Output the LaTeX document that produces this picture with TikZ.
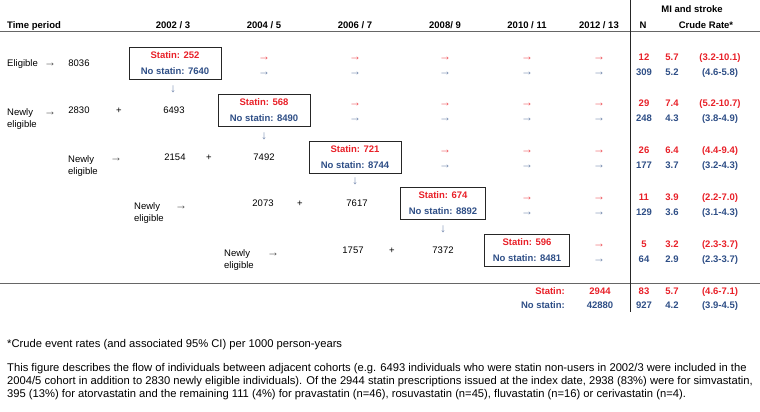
\documentclass[tikz,border=0pt]{standalone}
\usepackage{fontspec}
\setmainfont{Liberation Sans}
\usetikzlibrary{positioning}

\definecolor{statred}{RGB}{232,32,40}
\definecolor{statblue}{RGB}{46,78,134}
\newcommand{\fsz}{\fontsize{9.5}{13}\selectfont}
\newcommand{\fnote}{\fontsize{11.2}{13}\selectfont}

\begin{document}
\begin{tikzpicture}[x=1pt, y=-1pt,
    every node/.style={inner sep=0pt, font=\fsz},
    txt/.style={text height=6.8pt, text depth=0pt},
    hdr/.style={txt, font=\fsz\bfseries},
    rtxt/.style={txt, text=statred, font=\fsz\bfseries},
    btxt/.style={txt, text=statblue, font=\fsz\bfseries},
    arw/.style={txt, font=\fontsize{12}{12}\selectfont},
    rarr/.style={arw, text=statred!80},
    barr/.style={arw, text=statblue!70},
    newly/.style={anchor=north west, align=left, font=\fontsize{9.5}{12}\selectfont},
    cbox/.style={draw=black!85, line width=0.75pt, align=center,
                 font=\fontsize{9.5}{16}\selectfont\bfseries,
                 minimum width=#1, minimum height=32},
    cbox/.default=92]
    % Fix the size of the page
    \useasboundingbox (0,0) rectangle (760,412);

    % Column centres of the cohorts
    \def\cA{173} \def\cB{264} \def\cC{355} \def\cD{445} \def\cE{527} \def\cF{599}

    % Header row
    \node[hdr, anchor=west] (tp) at (7,25) {Time period};
    \node[hdr] (h1) at (\cA,25) {2002 / 3};
    \node[hdr] (h2) at (\cB,25) {2004 / 5};
    \node[hdr] (h3) at (\cC,25) {2006 / 7};
    \node[hdr] (h4) at (\cD,25) {2008/ 9};
    \node[hdr] (h5) at (\cE,25) {2010 / 11};
    \node[hdr] (h6) at (\cF,25) {2012 / 13};
    \node[hdr] (hn) at (643,25) {N};
    \node[hdr] (hmi) at (692,9) {MI and stroke};
    \node[hdr] (hcr) at (706,25) {Crude Rate*};

    % Rules of the table
    \draw[black!60, line width=1pt] (0,32) -- (760,32);
    \draw[black!60, line width=1pt] (0,283) -- (760,283);
    \draw[black!85, line width=0.8pt] (630,0) -- (630,312);

    % Row 1: eligible
    \node[txt, anchor=west] (elig) at (7,63) {Eligible};
    \node[arw, text=black!70] (ea1) at (50,63) {→};
    \node[txt] (n1) at (79,63) {8036};
    \node[cbox] (b1) at (175,63.5) {{\color{statred}Statin: 252}\\{\color{statblue}No statin: 7640}};
    \node[barr] (d1) at (173,89) {↓};

    % Row 2
    \node[newly] (ne2) at (7,108.6) {Newly\\eligible};
    \node[arw, text=black!70] (ea2) at (50,112) {→};
    \node[txt] (n2) at (79,110) {2830};
    \node[txt] (p2) at (119,110) {+};
    \node[txt] (m2) at (174,110) {6493};
    \node[cbox] (b2) at (264,110) {{\color{statred}Statin: 568}\\{\color{statblue}No statin: 8490}};
    \node[barr] (d2) at (264,136) {↓};

    % Row 3
    \node[newly] (ne3) at (68,155.6) {Newly\\eligible};
    \node[arw, text=black!70] (ea3) at (116,158) {→};
    \node[txt] (n3) at (175,157) {2154};
    \node[txt] (p3) at (209,157) {+};
    \node[txt] (m3) at (264,157) {7492};
    \node[cbox] (b3) at (355,157) {{\color{statred}Statin: 721}\\{\color{statblue}No statin: 8744}};
    \node[barr] (d3) at (355,181) {↓};

    % Row 4
    \node[newly] (ne4) at (134,202.6) {Newly\\eligible};
    \node[arw, text=black!70] (ea4) at (181,206) {→};
    \node[txt] (n4) at (263,203) {2073};
    \node[txt] (p4) at (300,203) {+};
    \node[txt] (m4) at (357,203) {7617};
    \node[cbox=85] (b4) at (443,203.5) {{\color{statred}Statin: 674}\\{\color{statblue}No statin: 8892}};
    \node[barr] (d4) at (443,229) {↓};

    % Row 5
    \node[newly] (ne5) at (224,249.6) {Newly\\eligible};
    \node[arw, text=black!70] (ea5) at (273,253) {→};
    \node[txt] (n5) at (353,250) {1757};
    \node[txt] (p5) at (392,250) {+};
    \node[txt] (m5) at (443,250) {7372};
    \node[cbox=85] (b5) at (527,250.5) {{\color{statred}Statin: 596}\\{\color{statblue}No statin: 8481}};

    % Arrows carrying each cohort forward
    \foreach \r/\yc/\cols in {1/63.5/{\cB,\cC,\cD,\cE,\cF},
                              2/110/{\cC,\cD,\cE,\cF},
                              3/157/{\cD,\cE,\cF},
                              4/203.5/{\cE,\cF},
                              5/250.5/{\cF}}
        \foreach \x [count=\k] in \cols {
            \node[rarr] (ra\r\k) at (\x,\yc-6.5) {→};
            \node[barr] (ba\r\k) at (\x,\yc+8.5) {→};
        }

    % Events and crude rates per cohort
    \foreach \r/\yc/\nr/\rr/\ir/\nb/\rb/\ib in {1/63.5/12/5.7/(3.2-10.1)/309/5.2/(4.6-5.8),
                                                2/110/29/7.4/(5.2-10.7)/248/4.3/(3.8-4.9),
                                                3/157/26/6.4/(4.4-9.4)/177/3.7/(3.2-4.3),
                                                4/203.5/11/3.9/(2.2-7.0)/129/3.6/(3.1-4.3),
                                                5/250.5/5/3.2/(2.3-3.7)/64/2.9/(2.3-3.7)} {
        \node[rtxt] (nr\r) at (644,\yc-6.5) {\nr};
        \node[rtxt] (rr\r) at (672,\yc-6.5) {\rr};
        \node[rtxt] (ir\r) at (720,\yc-6.5) {\ir};
        \node[btxt] (nb\r) at (644,\yc+8.5) {\nb};
        \node[btxt] (rb\r) at (672,\yc+8.5) {\rb};
        \node[btxt] (ib\r) at (720,\yc+8.5) {\ib};
    }

    % Totals
    \node[rtxt, anchor=east] (ts) at (565,291) {Statin:};
    \node[rtxt] (tsn) at (600,291) {2944};
    \node[rtxt] (tsN) at (644,291) {83};
    \node[rtxt] (tsr) at (672,291) {5.7};
    \node[rtxt] (tsi) at (720,291) {(4.6-7.1)};
    \node[btxt, anchor=east] (tn) at (565,305) {No statin:};
    \node[btxt] (tnn) at (600,305) {42880};
    \node[btxt] (tnN) at (644,305) {927};
    \node[btxt] (tnr) at (672,305) {4.2};
    \node[btxt] (tni) at (720,305) {(3.9-4.5)};

    % Footnote and description
    \node[anchor=west, font=\fnote, text height=8pt, text depth=0pt] (foot) at (7,343) {*Crude event rates (and associated 95\% CI) per 1000 person-years};
    \node[anchor=north west, align=left, font=\fnote] (para) at (7,362.8) {This figure describes the flow of individuals between adjacent cohorts (e.g. 6493 individuals who were statin non-users in 2002/3 were included in the\\
        2004/5 cohort in addition to 2830 newly eligible individuals). Of the 2944 statin prescriptions issued at the index date, 2938 (83\%) were for simvastatin,\\
        395 (13\%) for atorvastatin and the remaining 111 (4\%) for pravastatin (n=46), rosuvastatin (n=45), fluvastatin (n=16) or cerivastatin (n=4).};
\end{tikzpicture}
\end{document}
